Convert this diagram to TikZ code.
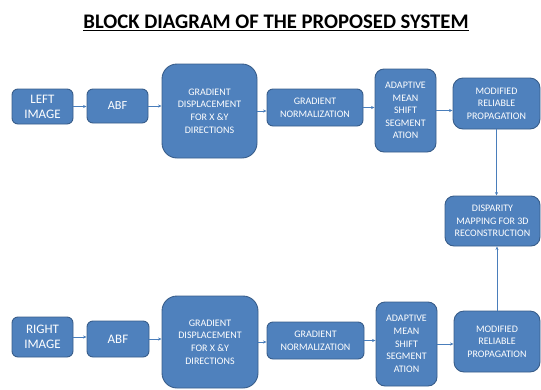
\documentclass[tikz,border=0pt]{standalone}
\usepackage{fontspec}
\setmainfont{Carlito}
\usetikzlibrary{arrows.meta}
\definecolor{boxfill}{HTML}{4F81BD}
\definecolor{boxline}{HTML}{385D8A}
\definecolor{arrowcol}{HTML}{4A7EBB}
\tikzset{
  blk/.style={draw=boxline, line width=0.9pt, fill=boxfill, text=white, align=center, inner sep=1pt, rounded corners=6pt},
  small/.style={font=\fontsize{10}{12.6}\selectfont},
  big/.style={font=\fontsize{13}{15}\selectfont},
  conn/.style={draw=arrowcol, line width=0.6pt, -{Stealth[length=3.5pt,width=3pt]}},
}
\begin{document}
\begin{tikzpicture}[x=1pt,y=-1pt]
\useasboundingbox (0,0) rectangle (541,389);
\node (title) at (276,23) {\fontsize{20.7}{23}\selectfont\bfseries\underline{BLOCK DIAGRAM OF THE PROPOSED SYSTEM}};
% top row
\node[blk,big,minimum width=61pt,minimum height=35pt] (li) at (42.5,106.5) {LEFT\\IMAGE};
\node[blk,font=\fontsize{12.3}{14}\selectfont,minimum width=61pt,minimum height=34pt] (abf1) at (117.5,106) {ABF};
\node[blk,small,rounded corners=15pt,minimum width=95pt,minimum height=94pt] (gd1) at (209.5,111) {GRADIENT\\DISPLACEMENT\\FOR X \&Y\\DIRECTIONS};
\node[blk,small,minimum width=96pt,minimum height=37pt] (gn1) at (315,107.5) {GRADIENT\\NORMALIZATION};
\node[blk,small,rounded corners=9pt,minimum width=61pt,minimum height=83pt] (am1) at (405.5,110.5) {ADAPTIVE\\MEAN\\SHIFT\\SEGMENT\\ATION};
\node[blk,small,rounded corners=10pt,minimum width=87pt,minimum height=51pt] (mr1) at (496.5,103.5) {MODIFIED\\RELIABLE\\PROPAGATION};
% disparity
\node[blk,small,rounded corners=9pt,minimum width=95pt,minimum height=50pt] (dm) at (492.5,221) {DISPARITY\\MAPPING FOR 3D\\RECONSTRUCTION};
% bottom row
\node[blk,big,minimum width=61pt,minimum height=40pt] (ri) at (42.5,337) {RIGHT\\IMAGE};
\node[blk,font=\fontsize{13}{15}\selectfont,minimum width=62pt,minimum height=36pt] (abf2) at (118,339) {ABF};
\node[blk,small,rounded corners=15pt,minimum width=96pt,minimum height=92pt] (gd2) at (210,342) {GRADIENT\\DISPLACEMENT\\FOR X \&Y\\DIRECTIONS};
\node[blk,small,minimum width=97pt,minimum height=37pt] (gn2) at (315.5,340.5) {GRADIENT\\NORMALIZATION};
\node[blk,small,rounded corners=9pt,minimum width=61pt,minimum height=84pt] (am2) at (406.5,344) {ADAPTIVE\\MEAN\\SHIFT\\SEGMENT\\ATION};
\node[blk,small,rounded corners=10pt,minimum width=86pt,minimum height=61pt] (mr2) at (497,341.5) {MODIFIED\\RELIABLE\\PROPAGATION};
% connectors top
\draw[conn] (li.east) -- (li.east -| abf1.west);
\draw[conn] (abf1.east) -- (abf1.east -| gd1.west);
\draw[conn] (gd1.east) -- (gd1.east -| gn1.west);
\draw[conn] (gn1.east) -- (gn1.east -| am1.west);
\draw[conn] (am1.east) -- (am1.east -| mr1.west);
% connectors bottom
\draw[conn] (ri.east) -- (ri.east -| abf2.west);
\draw[conn] (abf2.east) -- (abf2.east -| gd2.west);
\draw[conn] (gd2.east) -- (gd2.east -| gn2.west);
\draw[conn] (gn2.east) -- (gn2.east -| am2.west);
\draw[conn] (am2.east) -- (am2.east -| mr2.west);
% vertical
\draw[conn] (mr1.south) -- (mr1.south |- dm.north);
\draw[conn] (mr2.north) -- (mr2.north |- dm.south);
\end{tikzpicture}
\end{document}
